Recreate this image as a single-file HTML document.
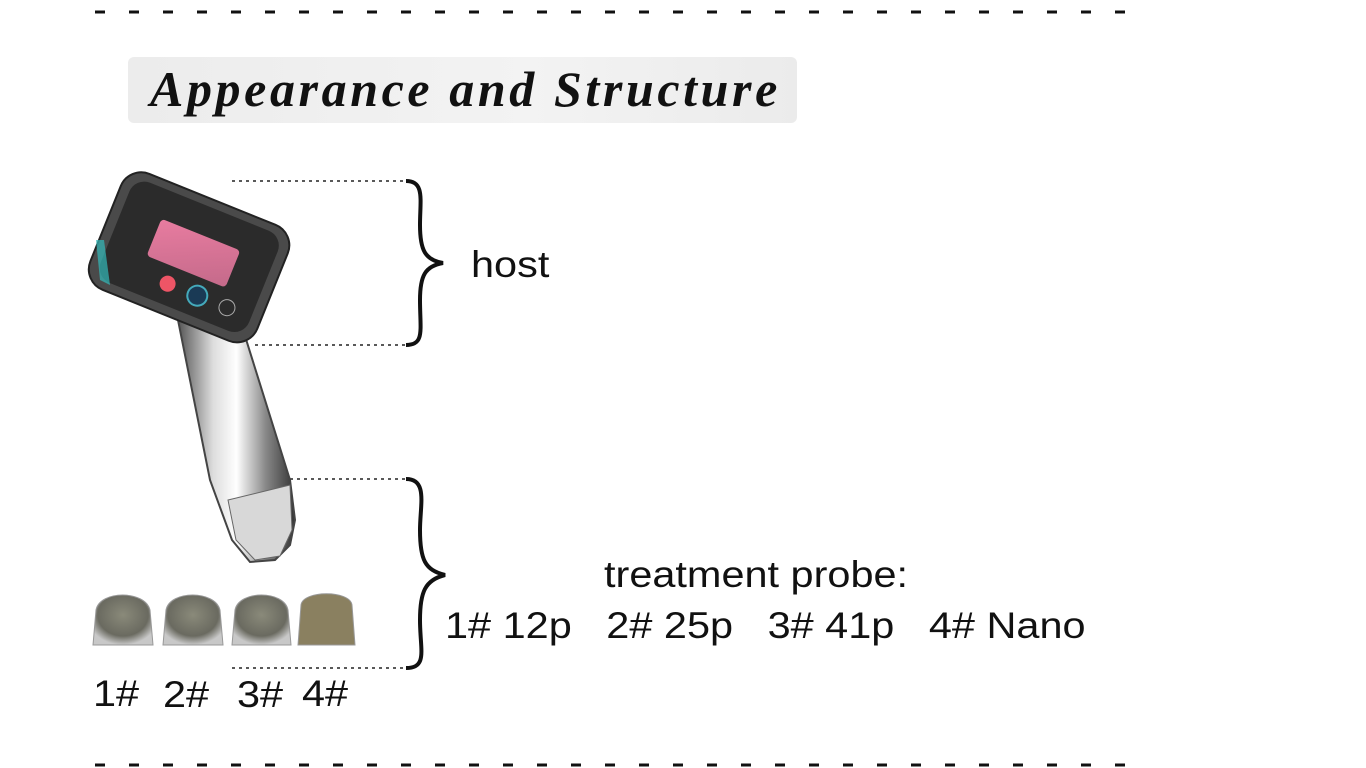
<!DOCTYPE html>
<html><head><meta charset="utf-8"><style>
html,body{margin:0;padding:0;background:#fff;}
body{width:1366px;height:768px;position:relative;overflow:hidden;font-family:"Liberation Sans",sans-serif;}
.t{position:absolute;color:#111;font-size:37px;white-space:pre;line-height:1;transform:scaleX(1.12);transform-origin:left top;}
</style></head><body>
<svg width="1366" height="768" style="position:absolute;left:0;top:0">
<defs>
<linearGradient id="tb" x1="0" y1="0" x2="1" y2="0"><stop offset="0" stop-color="#ececec"/><stop offset="0.6" stop-color="#f3f3f3"/><stop offset="1" stop-color="#ebebeb"/></linearGradient>
<linearGradient id="sil" x1="0" y1="0" x2="1" y2="0"><stop offset="0" stop-color="#555"/><stop offset="0.3" stop-color="#ddd"/><stop offset="0.5" stop-color="#fff"/><stop offset="0.75" stop-color="#888"/><stop offset="1" stop-color="#333"/></linearGradient>
<linearGradient id="scr" x1="0" y1="0" x2="1" y2="1"><stop offset="0" stop-color="#e87ca0"/><stop offset="1" stop-color="#c46a8a"/></linearGradient>
<radialGradient id="pr" cx="0.5" cy="0.4" r="0.6"><stop offset="0" stop-color="#8a8a7a"/><stop offset="0.7" stop-color="#6a6a60"/><stop offset="1" stop-color="#c8c8c8"/></radialGradient>
</defs>
<line x1="95" y1="12" x2="1130" y2="12" stroke="#111" stroke-width="3" stroke-dasharray="10 24"/>
<line x1="95" y1="765" x2="1130" y2="765" stroke="#111" stroke-width="3" stroke-dasharray="10 24"/>
<rect x="128" y="57" width="669" height="66" rx="6" fill="url(#tb)"/>
<g stroke="#222" stroke-width="1.5" stroke-dasharray="3 4">
<line x1="232" y1="181" x2="408" y2="181"/><line x1="255" y1="345" x2="408" y2="345"/>
<line x1="290" y1="479" x2="408" y2="479"/><line x1="232" y1="668" x2="408" y2="668"/>
</g>
<path d="M406,181 C425,181 420,200 420,225 C420,250 425,260 443,263 C425,266 420,276 420,300 C420,330 425,345 406,345" fill="none" stroke="#111" stroke-width="4"/>
<path d="M406,479 C428,479 420,505 420,530 C420,560 425,570 445,575 C425,580 420,592 420,620 C420,650 428,668 406,668" fill="none" stroke="#111" stroke-width="4"/>
<path d="M178,320 L240,320 L290,480 L295,520 L290,545 L275,560 L250,562 L232,540 L210,480 Z" fill="url(#sil)" stroke="#444" stroke-width="2"/>
<path d="M228,500 L290,485 L292,530 L280,556 L255,560 L236,540 Z" fill="#d8d8d8" stroke="#666"/>
<g transform="rotate(22 190 255)">
<rect x="100" y="195" width="180" height="125" rx="22" fill="#4a4a4a" stroke="#222" stroke-width="2"/>
<rect x="110" y="203" width="160" height="108" rx="16" fill="#2b2b2b"/>
<rect x="150" y="232" width="85" height="40" rx="4" fill="url(#scr)"/>
<circle cx="212" cy="290" r="10" fill="#1a3a55" stroke="#4ab" stroke-width="2"/>
<circle cx="180" cy="290" r="8" fill="#e56"/>
<circle cx="244" cy="290" r="8" fill="none" stroke="#aaa"/>
</g>
<path d="M96,240 L104,240 L110,285 L100,280 Z" fill="#3bb" opacity="0.7"/>
<g>
<path d="M93,645 L96,610 C100,590 145,590 150,610 L153,645 Z" fill="url(#pr)" stroke="#999"/>
<path d="M163,645 L166,610 C170,590 215,590 220,610 L223,645 Z" fill="url(#pr)" stroke="#999"/>
<path d="M232,645 L235,610 C239,590 284,590 288,610 L291,645 Z" fill="url(#pr)" stroke="#999"/>
<path d="M298,645 L301,605 C303,590 350,590 352,605 L355,645 Z" fill="#8a8060" stroke="#999"/>
</g>
</svg>
<div class="t" style="left:150px;top:64px;font-family:'Liberation Serif',serif;font-style:italic;font-weight:bold;font-size:50px;letter-spacing:3.6px;transform:none;">Appearance and Structure</div>
<div class="t" style="left:471px;top:246px;">host</div>
<div class="t" style="left:604px;top:556px;">treatment probe:</div>
<div class="t" style="left:445px;top:607px;">1# 12p   2# 25p   3# 41p   4# Nano</div>
<div class="t" style="left:93px;top:675px;">1#</div>
<div class="t" style="left:163px;top:676px;">2#</div>
<div class="t" style="left:237px;top:676px;">3#</div>
<div class="t" style="left:302px;top:675px;">4#</div>
</body></html>
